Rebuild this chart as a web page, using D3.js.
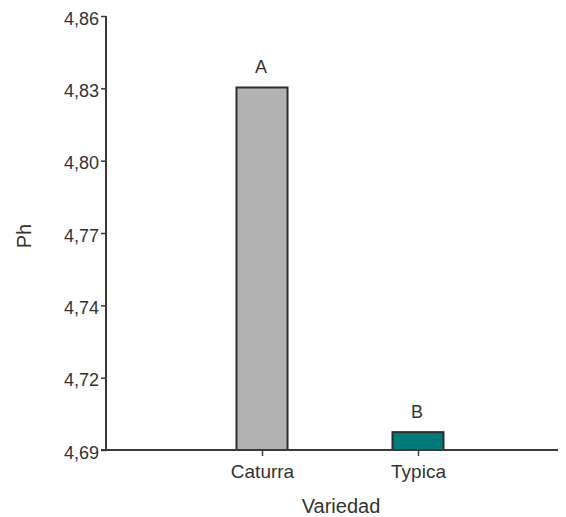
<!DOCTYPE html>
<html>
<head>
<meta charset="utf-8">
<script src="https://cdn.jsdelivr.net/npm/d3@7"></script>
<style>
  html, body { margin: 0; padding: 0; background: #fff; }
  svg { display: block; font-family: "Liberation Sans", Arial, sans-serif; }
</style>
</head>
<body>
<svg id="chart" width="566" height="517"></svg>
<script>
// pH per coffee variety, with significance letters
const varieties = ["Caturra", "Typica"];
const phValues = [4.83, 4.695];
const groupLetters = ["A", "B"];
const barColors = ["#b3b3b3", "#007c78"];

// Y axis range and its printed tick labels (7 evenly spaced ticks)
const yDomain = [4.688, 4.858];
const yTickLabels = ["4,69", "4,72", "4,74", "4,77", "4,80", "4,83", "4,86"];

const svg = d3.select("#chart");
const axisColor = "#3a3a3a";
const textColor = "#333";
const fontFamily = "Liberation Sans, Arial, sans-serif";

const plot = { left: 106, right: 558, top: 16, bottom: 450 };

const y = d3.scaleLinear().domain(yDomain).range([plot.bottom, plot.top]);
const x = d3.scalePoint().domain(varieties).range([184, 496]).padding(0.5);
const barWidth = 51;

const yTicks = d3.range(yTickLabels.length).map(i =>
  yDomain[0] + i * (yDomain[1] - yDomain[0]) / (yTickLabels.length - 1));

// Bars
svg.append("g").selectAll("rect")
  .data(varieties)
  .join("rect")
  .attr("x", d => x(d) - barWidth / 2)
  .attr("y", (d, i) => y(phValues[i]))
  .attr("width", barWidth)
  .attr("height", (d, i) => y(yDomain[0]) - y(phValues[i]))
  .attr("fill", (d, i) => barColors[i])
  .attr("stroke", "#2e2e2e")
  .attr("stroke-width", 2);

// Significance letters
svg.append("g").selectAll("text")
  .data(varieties)
  .join("text")
  .attr("x", d => x(d) - 1)
  .attr("y", (d, i) => y(phValues[i]) - 14)
  .attr("text-anchor", "middle")
  .attr("font-size", 18)
  .attr("fill", textColor)
  .text((d, i) => groupLetters[i]);

// Y axis
const yAxis = d3.axisLeft(y)
  .tickValues(yTicks)
  .tickFormat((d, i) => yTickLabels[i])
  .tickSize(5)
  .tickPadding(2);
const gy = svg.append("g")
  .attr("transform", `translate(${plot.left},0)`)
  .call(yAxis);
gy.select(".domain").remove();
gy.selectAll(".tick line").attr("stroke", axisColor).attr("stroke-width", 1.5);
gy.selectAll(".tick text")
  .attr("font-size", 18)
  .attr("font-family", fontFamily)
  .attr("dy", "0.45em")
  .attr("fill", textColor);
gy.append("line")
  .attr("x1", 0).attr("x2", 0)
  .attr("y1", plot.top).attr("y2", plot.bottom + 1)
  .attr("stroke", axisColor).attr("stroke-width", 2);

// X axis
const xAxis = d3.axisBottom(x).tickSize(6).tickPadding(9);
const gx = svg.append("g")
  .attr("transform", `translate(0,${plot.bottom})`)
  .call(xAxis);
gx.select(".domain").remove();
gx.selectAll(".tick line").attr("stroke", axisColor).attr("stroke-width", 1.5);
gx.selectAll(".tick text")
  .attr("font-size", 19)
  .attr("font-family", fontFamily)
  .attr("fill", textColor);
gx.append("line")
  .attr("x1", plot.left - 5).attr("x2", plot.right)
  .attr("y1", 0).attr("y2", 0)
  .attr("stroke", axisColor).attr("stroke-width", 2);

// Axis titles
svg.append("text")
  .attr("x", 341).attr("y", 513)
  .attr("text-anchor", "middle")
  .attr("font-size", 20)
  .attr("fill", textColor)
  .text("Variedad");

svg.append("text")
  .attr("transform", "translate(31,236) rotate(-90)")
  .attr("text-anchor", "middle")
  .attr("font-size", 20)
  .attr("fill", textColor)
  .text("Ph");
</script>
</body>
</html>
